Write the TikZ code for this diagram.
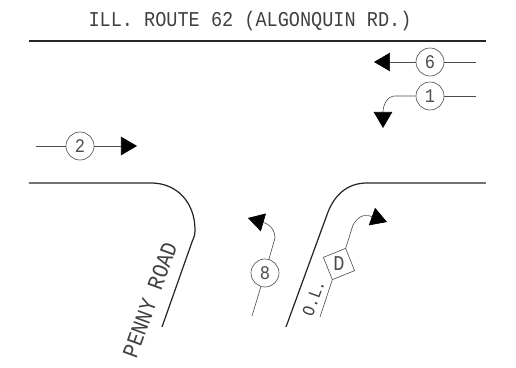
\documentclass[tikz,border=0pt]{standalone}
\usepackage{fontspec}
\newfontfamily\cadfont[FakeStretch=0.88]{Liberation Mono}
\usepackage{tikz}
\usetikzlibrary{arrows.meta, positioning}

\tikzset{
    road/.style={line width=0.7pt, black!85},
    flow/.style={line width=0.35pt, black!70},
    flowtip/.style={flow, -{Triangle[length=0.32cm,width=0.37cm,fill=black,color=black]}},
    phase/.style={circle, draw=black!70, line width=0.35pt, minimum size=0.56cm, inner sep=0pt, font=\cadfont\fontsize{11}{11}\selectfont, text=black!70},
    overlap/.style={rectangle, draw=black!70, line width=0.35pt, minimum size=0.48cm, inner sep=0pt, rotate=22, font=\cadfont\fontsize{12}{12}\selectfont, text=black!70},
    roadname/.style={inner sep=0pt, text=black!75, font=\cadfont\fontsize{12}{12}\selectfont}
}

\begin{document}
\begin{tikzpicture}
            \useasboundingbox (0,0) rectangle (10.32,7.36);

            % Draw the road edges
            \draw[road] (0.58,6.54) -- (9.72,6.54);
            \draw[road] (0.58,3.70) -- (3.02,3.70) .. controls (3.55,3.70) and (3.90,3.30) .. (3.90,2.76)
                .. controls (3.90,2.65) and (3.88,2.62) .. (3.84,2.52) -- (3.24,0.82);
            \draw[road] (5.72,0.82) -- (6.56,3.12) .. controls (6.72,3.52) and (7.00,3.70) .. (7.34,3.70) -- (9.72,3.70);

            % Label the roads
            \node[roadname] (title) at (5.00,6.94) {ILL. ROUTE 62 (ALGONQUIN RD.)};
            \node[roadname, rotate=70, font=\cadfont\fontsize{13}{13}\selectfont] (penny) at (3.00,1.36) {PENNY ROAD};
            \node[roadname, rotate=70, font=\cadfont\fontsize{10}{10}\selectfont] (ol) at (6.27,1.40) {O.L.};

            % Phase numbers
            \node[phase] (six) at (8.60,6.12) {6};
            \node[phase] (one) at (8.60,5.44) {1};
            \node[phase] (two) at (1.60,4.44) {2};
            \node[phase] (eight) at (5.30,1.90) {8};
            \node[overlap] (dee) at (6.78,2.08) {\rotatebox{-22}{D}};

            % Free ends of the movements
            \coordinate (sixstart) at (9.52,6.12);
            \coordinate (sixend) at (7.48,6.12);
            \coordinate (onestart) at (9.52,5.44);
            \coordinate (oneend) at (7.66,4.80);
            \coordinate (twostart) at (0.72,4.44);
            \coordinate (twoend) at (2.74,4.44);
            \coordinate (eightstart) at (5.04,1.04);
            \coordinate (eightend) at (4.96,3.00);
            \coordinate (deestart) at (6.40,1.02);
            \coordinate (deeend) at (7.74,2.92);

            % Draw the movements
            \draw[flow] (sixstart) -- (six);
            \draw[flowtip] (six) -- (sixend);
            \draw[flow] (onestart) -- (one);
            \draw[flowtip] (one) -- (7.90,5.44) .. controls (7.74,5.44) and (7.66,5.25) .. (oneend);
            \draw[flow] (twostart) -- (two);
            \draw[flowtip] (two) -- (twoend);
            \draw[flow] (eightstart) -- (eight);
            \draw[flowtip] (eight) -- (5.50,2.60) .. controls (5.50,2.85) and (5.27,2.91) .. (eightend);
            \draw[flow] (deestart) -- (dee.south west);
            \draw[flowtip] (dee.north east) -- (7.06,2.86) .. controls (7.20,3.10) and (7.35,3.06) .. (deeend);
        \end{tikzpicture}
\end{document}
